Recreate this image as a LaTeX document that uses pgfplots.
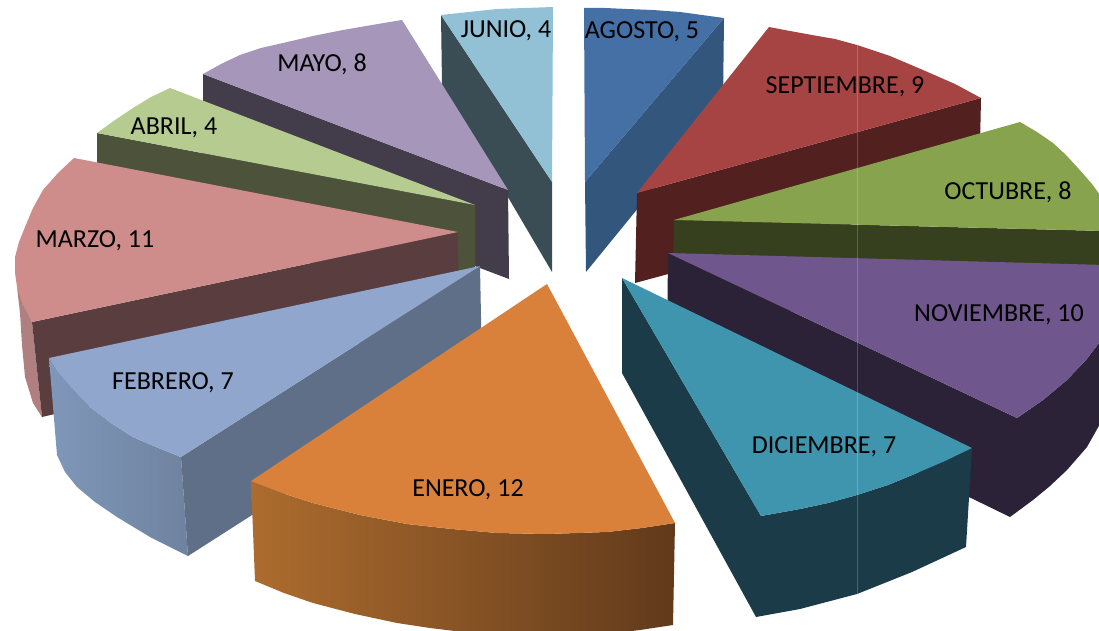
\documentclass[border=0pt]{standalone}
\usepackage{fontspec}
\setmainfont{Carlito}
\usepackage{pgfplots}
\pgfplotsset{compat=1.18}
\definecolor{agostoT}{HTML}{4470A5}\definecolor{agostoS}{HTML}{33567D}
\definecolor{septT}{HTML}{A54442}\definecolor{septS}{HTML}{52201F}
\definecolor{octT}{HTML}{87A34D}\definecolor{octS}{HTML}{36401E}
\definecolor{novT}{HTML}{6F568D}\definecolor{novS}{HTML}{2C2238}
\definecolor{dicT}{HTML}{4095AE}\definecolor{dicS}{HTML}{1A3B47}
\definecolor{eneT}{HTML}{D9813B}\definecolor{eneL}{HTML}{AD6C2E}\definecolor{eneR}{HTML}{613A1B}
\definecolor{febT}{HTML}{90A6CC}\definecolor{febS}{HTML}{5F6F87}\definecolor{febL}{HTML}{7F97B9}\definecolor{febR}{HTML}{6F83A0}
\definecolor{marT}{HTML}{CE8C8B}\definecolor{marS}{HTML}{5A3D3E}\definecolor{marO}{HTML}{B07F7F}
\definecolor{abrT}{HTML}{B6CB90}\definecolor{abrS}{HTML}{4C533A}
\definecolor{mayT}{HTML}{A696BA}\definecolor{mayS}{HTML}{423C4B}
\definecolor{junT}{HTML}{92C0D4}\definecolor{junS}{HTML}{3B4D54}
\pgfplotsset{face/.style={draw=none,fill=#1}}
\newcommand{\lab}[3]{\node[anchor=center,inner sep=0pt,yshift=-2pt,text=black,font=\fontsize{26}{28}\selectfont] at (axis cs:#1,#2) {#3};}
\begin{document}
\begin{tikzpicture}
\begin{axis}[
    scale only axis,
    width=1099pt,
    height=631pt,
    xmin=0, xmax=1099,
    ymin=0, ymax=631,
    y dir=reverse,
    hide axis,
    clip=true,
]
% keeps the page at the full plot area (hide axis does not count)
\path (axis cs:0,0) rectangle (axis cs:1099,631);
% JUNIO
\addplot[face=junS] coordinates {(441,15) (552,182) (552,272) (442,85)} --cycle;
\addplot[face=junT] coordinates {(441,15) (469,12) (497,9) (525,8) (553,7) (552,182)} --cycle;
% AGOSTO
\addplot[face=agostoS] coordinates {(724,18) (585,182) (586,272) (723,104)} --cycle;
\addplot[face=agostoT] coordinates {(584,8) (605,8) (627,9) (653,10) (680,12) (702,15) (724,18) (585,182)} --cycle;
% MAYO
\addplot[face=mayS] coordinates {(203,74) (508,190) (509,279) (203,163)} --cycle;
\addplot[face=mayT] coordinates {(203,74) (221,64) (240,55) (261,48) (283,43) (313,36) (343,30) (372,25) (402,20) (508,190)} --cycle;
% SEPTIEMBRE
\addplot[face=septS] coordinates {(637,193) (981,98) (979,190) (635,283)} --cycle;
\addplot[face=septT] coordinates {(637,193) (769,27) (790,31) (812,35) (835,39) (857,45) (890,56) (923,70) (955,84) (981,98)} --cycle;
% ABRIL
\addplot[face=abrS] coordinates {(97,133) (475,205) (475,294) (97,222)} --cycle;
\addplot[face=abrT] coordinates {(97,133) (115,120) (133,108) (151,97) (170,88) (475,205)} --cycle;
% OCTUBRE
\addplot[face=octS] coordinates {(674,220) (1105,231) (1105,320) (672,308)} --cycle;
\addplot[face=octT] coordinates {(674,220) (1020,122) (1037,132) (1053,143) (1066,155) (1077,167) (1092,184) (1105,202) (1105,231)} --cycle;
% MARZO
\addplot[face=marO] coordinates {(17,287) (20,313) (22,345) (25,377) (33,403) (42,417) (32,322)} --cycle;
\addplot[face=marS] coordinates {(32,322) (458,232) (459,320) (42,417)} --cycle;
\addplot[face=marT] coordinates {(74,158) (458,232) (32,322) (23,305) (17,287) (15,273) (15,257) (19,242) (25,227) (33,208) (43,190) (58,173)} --cycle;
% NOVIEMBRE
\addplot[face=novS] coordinates {(668,253) (1017,418) (1043,400) (1067,380) (1086,360) (1105,335) (1105,415) (1087,447) (1067,470) (1050,486) (1033,500) (1010,517) (667,350)} --cycle;
\addplot[face=novT] coordinates {(668,253) (1105,265) (1105,335) (1086,360) (1067,380) (1043,400) (1017,418)} --cycle;
% FEBRERO
\addplot[draw=none,left color=febL,right color=febR] coordinates {(49,358) (57,371) (67,383) (78,395) (90,407) (111,423) (133,437) (156,447) (181,457) (188,556) (150,537) (117,517) (95,502) (77,487) (65,472) (57,455)} --cycle;
\addplot[face=febS] coordinates {(181,457) (480,266) (482,368) (188,556)} --cycle;
\addplot[face=febT] coordinates {(49,358) (480,266) (181,457) (156,447) (133,437) (111,423) (90,407) (78,395) (67,383) (57,371)} --cycle;
% DICIEMBRE
\addplot[face=dicS] coordinates {(622,278) (761,516) (800,509) (828,503) (857,495) (888,485) (917,473) (945,461) (972,448) (966,547) (912,572) (857,594) (800,609) (756,617) (622,373)} --cycle;
\addplot[face=dicT] coordinates {(622,278) (972,448) (945,461) (917,473) (888,485) (857,495) (828,503) (800,509) (761,516)} --cycle;
% ENERO
\addplot[draw=none,left color=eneL,right color=eneR] coordinates {(251,481) (282,493) (313,503) (360,515) (407,524) (452,529) (497,533) (547,534) (607,532) (642,528) (675,523) (673,625) (640,630) (607,634) (547,638) (505,636) (463,632) (430,628) (397,623) (355,614) (313,603) (284,593) (255,581)} --cycle;
\addplot[face=eneT] coordinates {(251,481) (547,284) (675,523) (642,528) (607,532) (547,534) (497,533) (452,529) (407,524) (360,515) (313,503) (282,493)} --cycle;
% faint seam in the original image
\addplot[draw=white,opacity=0.2,line width=0.8pt] coordinates {(857,45) (857,594)};
% labels
\lab{506}{29}{JUNIO, 4}
\lab{642}{30}{AGOSTO, 5}
\lab{845}{85}{SEPTIEMBRE, 9}
\lab{1008}{190}{OCTUBRE, 8}
\lab{999}{313}{NOVIEMBRE, 10}
\lab{824}{445}{DICIEMBRE, 7}
\lab{468}{488}{ENERO, 12}
\lab{173}{381}{FEBRERO, 7}
\lab{95}{239}{MARZO, 11}
\lab{174}{126}{ABRIL, 4}
\lab{322}{62}{MAYO, 8}
\end{axis}
\end{tikzpicture}
\end{document}
